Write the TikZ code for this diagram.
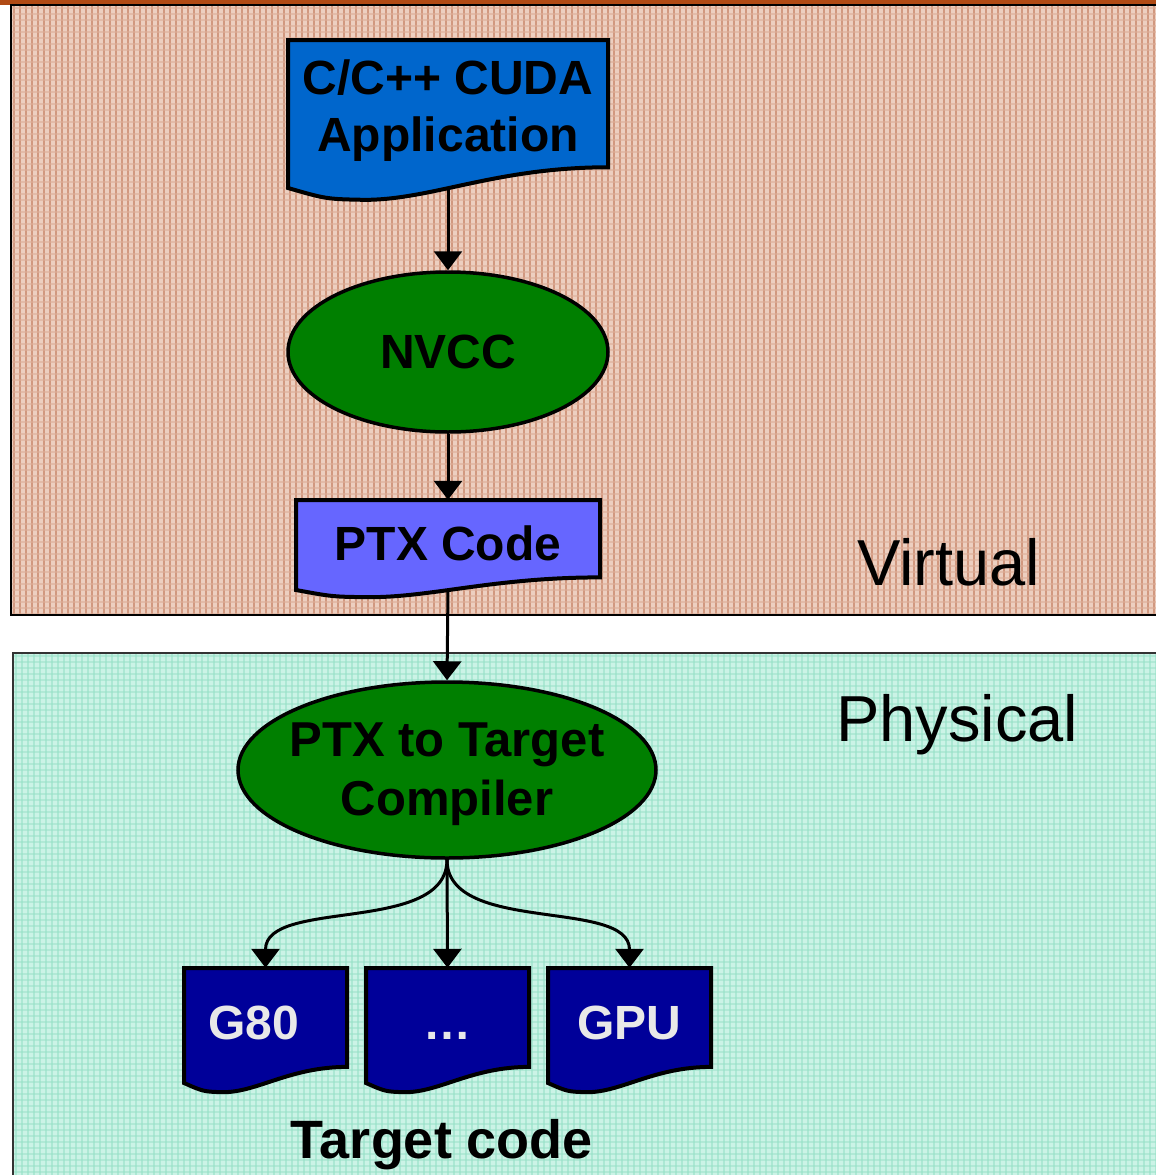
\documentclass[tikz,border=0pt]{standalone}
\usepackage{fontspec}
\setmainfont{Liberation Sans}
\usetikzlibrary{arrows.meta,shapes.geometric}
\definecolor{orangeline}{HTML}{B04A14}
\definecolor{virtbase}{HTML}{EDCFC0}
\definecolor{virtstripe}{HTML}{C8866A}
\definecolor{virthstripe}{HTML}{DDAE98}
\definecolor{physbase}{HTML}{CBF3E6}
\definecolor{physstripe}{HTML}{98E1C8}
\definecolor{appblue}{HTML}{0066CC}
\definecolor{ptxblue}{HTML}{6666FF}
\definecolor{tgtblue}{HTML}{000099}
\definecolor{nvgreen}{HTML}{007F00}
\definecolor{lighttext}{HTML}{E8E8E8}
\tikzset{
  docline/.style={draw=black, line width=4pt, line join=miter},
  docnode/.style={inner sep=0pt, draw=none},
  boldtext/.style={font=\fontsize{48}{57}\selectfont\bfseries, align=center},
  ellnode/.style={ellipse, draw=black, line width=3.5pt, fill=nvgreen, inner sep=0pt},
  arr/.style={draw=black, line width=3pt, -{Triangle[width=28pt,length=19pt]}},
  zonelabel/.style={font=\fontsize{65}{72}\selectfont, inner sep=0pt},
}
\newcommand\docshape[8]{%
  \pgfmathsetmacro\dW{#3-#2}%
  \pgfmathsetmacro\dH{#5-#4}%
  \draw[docline,fill=#6] (#2,#4) -- (#3,#4) -- (#3,#5-0.14*\dH)
    .. controls (#3-0.35*\dW,#5-0.14*\dH) and (#2+0.45*\dW,#5+0.08*\dH) .. (#2+0.24*\dW,#5+0.08*\dH)
    .. controls (#2+0.12*\dW,#5+0.075*\dH) .. (#2,#5) -- cycle;
  \node[docnode, minimum width=\dW pt, minimum height=\dH pt] (#1) at ({(#2+#3)/2},{(#4+#5)/2}) {};
  \node[boldtext] (#1-text) at ({(#2+#3)/2+#7},{(#4+#5)/2-0.03*\dH+1}) {#8};
}
\begin{document}
\begin{tikzpicture}[x=1pt,y=-1pt]
\useasboundingbox (0,0) rectangle (1156,1175);
\clip (0,0) rectangle (1156,1175);
% top orange line
\fill[orangeline] (0,0) rectangle (1156,4.5);
% virtual zone
\fill[virtbase] (11,5) rectangle (1170,615);
\begin{scope}
  \clip (11,5) rectangle (1170,615);
  \foreach \i in {14,20,...,1160} \draw[virtstripe, line width=1.3pt, opacity=0.75] (\i,5) -- (\i,615);
  \foreach \j in {8,14,...,615} \draw[virthstripe, line width=1.2pt, opacity=0.6] (11,\j) -- (1170,\j);
\end{scope}
\draw[black, line width=2.5pt] (11,5) rectangle (1170,615);
% physical zone
\fill[physbase] (13,653) rectangle (1170,1190);
\begin{scope}
  \clip (13,653) rectangle (1170,1190);
  \foreach \i in {16,22,...,1160} \draw[physstripe, line width=1.2pt, opacity=0.6] (\i,653) -- (\i,1190);
  \foreach \j in {656,662,...,1190} \draw[physstripe, line width=1.2pt, opacity=0.5] (13,\j) -- (1170,\j);
\end{scope}
\draw[black!80, line width=2pt] (13,653) rectangle (1170,1190);
% zone labels
\node[zonelabel, anchor=base west] (virtual) at (857,585) {Virtual};
\node[zonelabel, anchor=base west] (physical) at (836,741) {Physical};
% application
\docshape{app}{288}{608}{40}{188}{appblue}{0}{C/C++ CUDA\\Application}
% NVCC
\node[ellnode, minimum width=320pt, minimum height=160pt, boldtext] (nvcc) at (448,352) {NVCC};
% PTX code
\docshape{ptx}{296}{600}{500}{590}{ptxblue}{0}{PTX Code}
% PTX to target compiler
\node[ellnode, minimum width=418pt, minimum height=176pt] (ptxc) at (447,770) {};
\node[boldtext, font=\fontsize{49}{59}\selectfont\bfseries] (ptxc-text) at (447,774) {PTX to Target\\Compiler};
% targets
\docshape{g80}{184}{347}{968}{1083}{tgtblue}{-12}{\textcolor{lighttext}{G80}}
\docshape{dots}{366}{529}{968}{1083}{tgtblue}{0}{\textcolor{lighttext}{\vphantom{G}…}}
\docshape{gpu}{548}{711}{968}{1083}{tgtblue}{0}{\textcolor{lighttext}{GPU}}
\node[font=\fontsize{54}{60}\selectfont\bfseries, inner sep=0pt, anchor=base] (tcode) at (442,1158) {Target code};
% connectors
\draw[arr] (app.south) -- (nvcc.north);
\draw[arr] (nvcc.south) -- (ptx.north);
\draw[arr] (ptx.south) -- (ptxc.north);
\draw[arr] (ptxc.south) .. controls +(0,75) and +(0,-70) .. (g80.north);
\draw[arr] (ptxc.south) -- (dots.north);
\draw[arr] (ptxc.south) .. controls +(0,75) and +(0,-70) .. (gpu.north);
\end{tikzpicture}
\end{document}
